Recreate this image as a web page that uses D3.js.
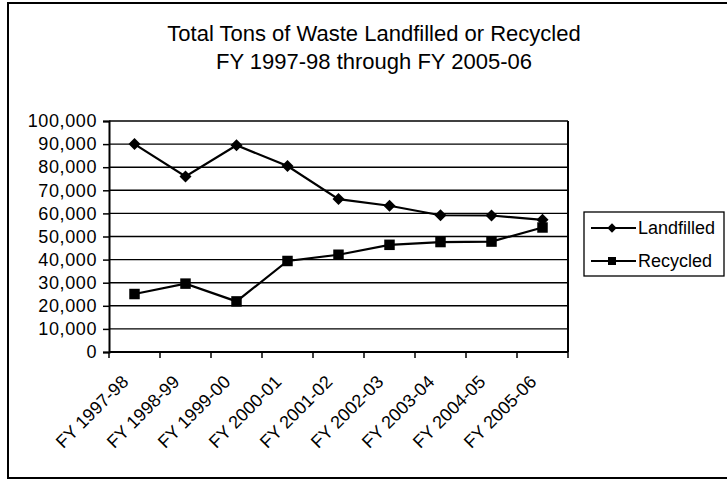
<!DOCTYPE html>
<html>
<head>
<meta charset="utf-8">
<script src="https://cdn.jsdelivr.net/npm/d3@7"></script>
<style>
  body { margin: 0; background: #fff; }
  svg { display: block; font-family: "Liberation Sans", Arial, sans-serif; }
</style>
</head>
<body>
<svg id="chart" width="727" height="482"></svg>
<script>
"use strict";

// chart data
const years = ["FY 1997-98", "FY 1998-99", "FY 1999-00", "FY 2000-01", "FY 2001-02",
  "FY 2002-03", "FY 2003-04", "FY 2004-05", "FY 2005-06"];
const landfilled = [90000, 76000, 89500, 80500, 66200, 63300, 59200, 59100, 57200];
const recycled = [25100, 29600, 21900, 39400, 42100, 46400, 47600, 47800, 53900];
const yTicks = [0, 10000, 20000, 30000, 40000, 50000, 60000, 70000, 80000, 90000, 100000];
const titleLines = ["Total Tons of Waste Landfilled or Recycled", "FY 1997-98 through FY 2005-06"];
const seriesNames = ["Landfilled", "Recycled"];

const chartMargin = { left: 109, top: 121, right: 568, bottom: 352 };

const svg = d3.select("#chart");

// outer border (right edge runs off the page like the scan)
svg.append("rect")
  .attr("x", 8).attr("y", 3).attr("width", 740).attr("height", 475)
  .attr("fill", "none").attr("stroke", "#000").attr("stroke-width", 2);

// title
svg.append("g").selectAll("text")
  .data(titleLines)
  .enter().append("text")
  .attr("x", 374)
  .attr("y", (_, i) => 41 + i * 28)
  .attr("text-anchor", "middle")
  .style("font-size", "22px")
  .text(d => d);

const x = d3.scaleBand().domain(years).range([chartMargin.left, chartMargin.right]);
const y = d3.scaleLinear().domain([0, 100000]).range([chartMargin.bottom, chartMargin.top]);

// gridlines
svg.append("g").selectAll("line")
  .data(yTicks.filter(d => d > 0))
  .enter().append("line")
  .attr("x1", chartMargin.left).attr("x2", chartMargin.right)
  .attr("y1", d => y(d)).attr("y2", d => y(d))
  .attr("stroke", "#000").attr("stroke-width", 1.4);

// right edge of plot area
svg.append("line")
  .attr("x1", chartMargin.right).attr("x2", chartMargin.right)
  .attr("y1", chartMargin.top).attr("y2", chartMargin.bottom)
  .attr("stroke", "#000").attr("stroke-width", 2);

// y axis
const axisLeft = d3.axisLeft(y).tickValues(yTicks).tickFormat(d3.format(",")).tickSize(6).tickPadding(6);
const gy = svg.append("g")
  .attr("transform", "translate(" + chartMargin.left + ",0)")
  .call(axisLeft);
gy.select(".domain").attr("stroke-width", 2);
gy.selectAll(".tick line").attr("stroke-width", 1.5);
gy.selectAll("text")
  .attr("fill", "#000")
  .style("font-size", "18px")
  .style("font-family", "Liberation Sans, Arial, sans-serif")
  .style("letter-spacing", "0.6px");

// x axis: ticks sit on the category boundaries
const boundaries = years.map(d => x(d)).concat([chartMargin.right]);
svg.append("line")
  .attr("x1", chartMargin.left).attr("x2", chartMargin.right)
  .attr("y1", chartMargin.bottom).attr("y2", chartMargin.bottom)
  .attr("stroke", "#000").attr("stroke-width", 2);
svg.append("g").selectAll("line")
  .data(boundaries)
  .enter().append("line")
  .attr("x1", d => d).attr("x2", d => d)
  .attr("y1", chartMargin.bottom).attr("y2", chartMargin.bottom + 6)
  .attr("stroke", "#000").attr("stroke-width", 1.5);
svg.append("g").selectAll("text")
  .data(years)
  .enter().append("text")
  .attr("transform", d => "translate(" + (x(d) + x.bandwidth() / 2 - 5) + "," + (chartMargin.bottom + 31) + ")rotate(-45)")
  .attr("text-anchor", "end")
  .style("font-size", "18px")
  .text(d => d);

// series
const line = d3.line()
  .x((_, i) => x(years[i]) + x.bandwidth() / 2)
  .y(d => y(d));

const drawSeries = function (values, symbolType, size, rotate) {
  svg.append("path")
    .datum(values)
    .attr("d", line)
    .attr("fill", "none")
    .attr("stroke", "#000")
    .attr("stroke-width", 2.2);
  svg.append("g").selectAll("path")
    .data(values)
    .enter().append("path")
    .attr("d", d3.symbol().type(symbolType).size(size))
    .attr("transform", (d, i) => "translate(" + (x(years[i]) + x.bandwidth() / 2) + "," + y(d) + ")rotate(" + rotate + ")")
    .attr("fill", "#000");
};
drawSeries(landfilled, d3.symbolSquare, 72, 45);
drawSeries(recycled, d3.symbolSquare, 110, 0);

// legend
const legend = svg.append("g");
legend.append("rect")
  .attr("x", 584).attr("y", 212).attr("width", 140).attr("height", 64)
  .attr("fill", "#fff").attr("stroke", "#000").attr("stroke-width", 1.3);
const legendItems = legend.selectAll("g")
  .data(seriesNames)
  .enter().append("g")
  .attr("transform", (_, i) => "translate(0," + (228 + i * 33) + ")");
legendItems.append("line")
  .attr("x1", 591).attr("x2", 636)
  .attr("stroke", "#000").attr("stroke-width", 2);
legendItems.append("path")
  .attr("d", (_, i) => d3.symbol().type(d3.symbolSquare).size(i === 0 ? 44 : 64)())
  .attr("transform", (_, i) => "translate(612,0)rotate(" + (i === 0 ? 45 : 0) + ")")
  .attr("fill", "#000");
legendItems.append("text")
  .attr("x", 638).attr("y", 6)
  .style("font-size", "18px")
  .text(d => d);
</script>
</body>
</html>
